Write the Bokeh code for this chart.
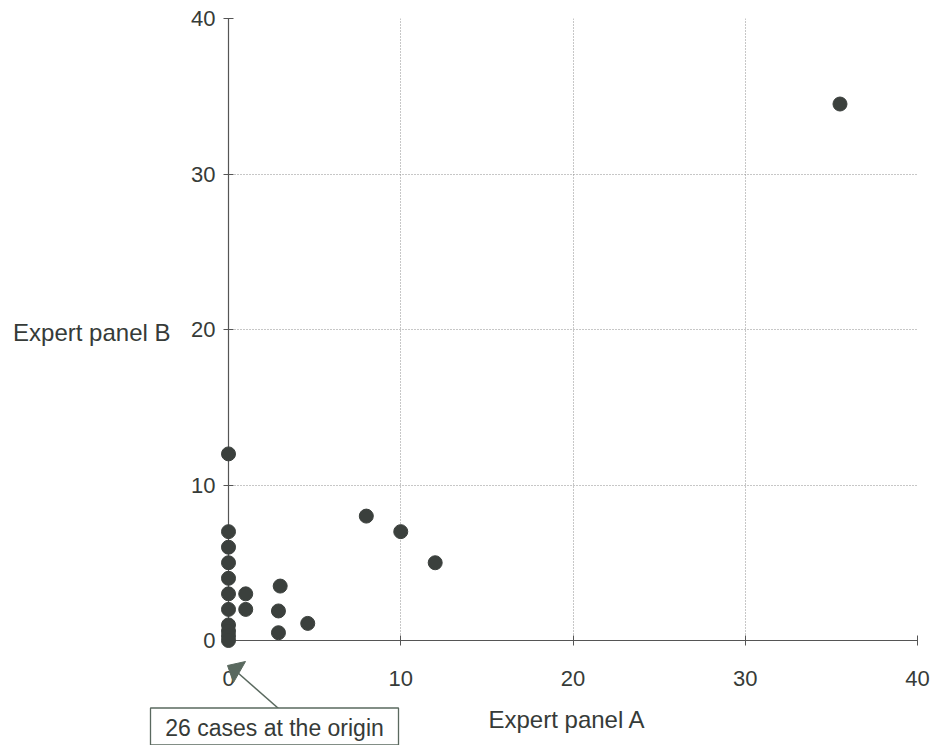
from bokeh.plotting import figure
from bokeh.models import Range1d, FixedTicker
from bokeh.core.properties import value
from bokeh.embed import file_html
from bokeh.resources import INLINE

# Data
panel_a = [0, 0, 0, 0, 0, 0, 0, 0, 0, 0, 0, 1, 1, 3, 2.9, 2.9, 4.6, 8, 10, 12, 35.5]
panel_b = [12, 7, 6, 5, 4, 3, 2, 1, 0.6, 0.3, 0, 3, 2, 3.5, 1.9, 0.5, 1.1, 8, 7, 5, 34.5]
ticks = [0, 10, 20, 30, 40]
x_title = "Expert panel  A"
y_title = "Expert panel B"
note = "26 cases at the origin"

FONT = "Liberation Sans"
TXT = "#363b38"
NOTE_COL = "#5a695f"

W, H = 931, 745
L, R, T, B = 228, 14, 18, 105
XMAX, YMAX = 40, 40
sx = (W - L - R) / XMAX   # px per unit, used only to place the annotation in pixels
sy = (H - T - B) / YMAX

p = figure(width=W, height=H, output_backend="svg", toolbar_location=None,
           x_range=Range1d(0, XMAX), y_range=Range1d(0, YMAX),
           min_border_left=L, min_border_right=R, min_border_top=T, min_border_bottom=B)
p.outline_line_color = None
p.background_fill_color = "white"
p.border_fill_color = "white"

for ax in (p.xaxis[0], p.yaxis[0]):
    ax.ticker = FixedTicker(ticks=ticks)
    ax.minor_tick_line_color = None
    ax.major_tick_in = 5
    ax.major_tick_out = 5
    ax.axis_line_color = "#555555"
    ax.axis_line_width = 1.2
    ax.major_tick_line_color = "#555555"
    ax.major_label_text_font = FONT
    ax.major_label_text_font_size = "22px"
    ax.major_label_text_color = TXT
p.xaxis[0].major_label_standoff = 25
p.yaxis[0].major_label_standoff = 8

for g in (p.xgrid[0], p.ygrid[0]):
    g.ticker = FixedTicker(ticks=ticks[1:])
    g.grid_line_color = "#8f8f8f"
    g.grid_line_dash = "1 2"
    g.grid_line_width = 1

p.scatter(panel_a, panel_b, size=14, fill_color="#3b403d", line_color="#3b403d",
          marker="circle", level="overlay")

# axis titles
p.text(x=[0], y=[20], text=[y_title], x_offset=-58, y_offset=3, text_align="right",
       text_baseline="middle", text_font=value(FONT), text_font_size="24px",
       text_color=TXT, level="overlay")
p.text(x=[0], y=[0], text=[x_title], x_offset=260, y_offset=79, text_align="left",
       text_baseline="middle", text_font=value(FONT), text_font_size="24px",
       text_color=TXT, level="overlay")

# annotation: arrow pointing at the origin + boxed note (pixel offsets from the origin)
def px(dx, dy):
    return dx / sx, -dy / sy

tail = px(50, 68)
shaft_end = px(9, 32)
tip = px(17, 21)
c1 = px(-1, 25)
c2 = px(5, 42)
p.segment(x0=[tail[0]], y0=[tail[1]], x1=[shaft_end[0]], y1=[shaft_end[1]],
          line_color=NOTE_COL, line_width=1.6, level="overlay")
p.patch(x=[tip[0], c1[0], c2[0]], y=[tip[1], c1[1], c2[1]],
        fill_color=NOTE_COL, line_color=NOTE_COL, level="overlay")
box_c = px(46, 86)
p.rect(x=[box_c[0]], y=[box_c[1]], width=248, height=37, width_units="screen",
       height_units="screen", fill_color="white", line_color=NOTE_COL, line_width=1.3,
       level="overlay")
p.text(x=[box_c[0]], y=[box_c[1]], text=[note], text_align="center", text_baseline="middle",
       y_offset=1, text_font=value(FONT), text_font_size="23px", text_color=TXT, level="overlay")

open("out.html", "w").write(file_html(p, INLINE))
